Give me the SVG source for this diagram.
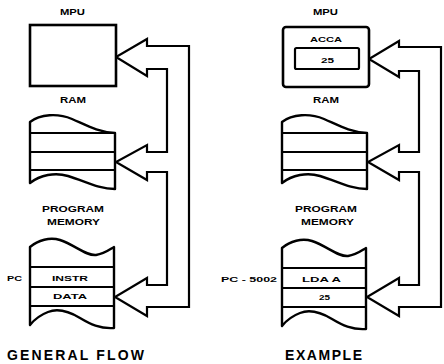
<svg xmlns="http://www.w3.org/2000/svg" width="444" height="364" viewBox="0 0 444 364">
<style>
.bg{fill:#fff}
.box{fill:#fff;stroke:#000;stroke-width:2.6}
.stk{fill:#fff;stroke:#000;stroke-width:2.4;stroke-linejoin:round}
.row{stroke:#000;stroke-width:2.2;fill:none}
.bus{fill:#fff;stroke:#000;stroke-width:2.2;stroke-linejoin:miter}
text{font-family:"Liberation Sans",Arial,sans-serif;font-weight:bold;fill:#000}
.lbl{font-size:9.5px;text-anchor:start}
.sm{font-size:8px}
.big{font-size:14px}
</style>
<defs>
<g id="ramShape">
<path class="stk" d="M30,183 L30,122 C40,114 58,113 72,119 C86,125 98,132 115,133 L115,189 C98,189 85,181 68,176 C55,172 40,175 30,183 Z"/>
<path class="row" d="M30,133 H115 M30,152 H115 M30,170 H115"/>
</g>
<g id="progShape">
<path class="stk" d="M30,325 L30,247 C38,240 50,237 60,240 C75,245 86,256 96,255 C104,254 109,250 114,247 L114,328 C100,329 90,324 80,318 C70,312 58,308 48,312 C40,315 34,320 30,325 Z"/>
<path class="row" d="M30,267 H114 M30,287 H114 M30,306 H114"/>
</g>
</defs>
<rect class="bg" x="0" y="0" width="444" height="364"/>

<g id="connectors">
<path class="bus" d="M147,46 L189,46 L189,307 L147,307 L147,316 L115,297 L147,278 L147,285 L167,285 L167,172 L147,172 L147,180 L116,162 L147,145 L147,152 L167,152 L167,69 L147,69 L147,76 L116,57 L147,39 Z"/>
<path class="bus" d="M399,47 L441,47 L441,307 L399,307 L399,316 L367,297 L399,278 L399,285 L419,285 L419,172 L399,172 L399,180 L368,162 L399,145 L399,152 L419,152 L419,71 L399,71 L399,77 L369,59 L399,41 Z"/>
</g>

<g id="left-mpu">
<text class="lbl" x="60" y="15" textLength="25" lengthAdjust="spacingAndGlyphs">MPU</text>
<rect class="box" x="30" y="25" width="86" height="61"/>
</g>
<g id="left-ram">
<text class="lbl" x="60" y="103" textLength="26" lengthAdjust="spacingAndGlyphs">RAM</text>
<use href="#ramShape"/>
</g>
<g id="left-prog">
<text class="lbl" x="42" y="212" textLength="62" lengthAdjust="spacingAndGlyphs">PROGRAM</text>
<text class="lbl" x="47" y="225" textLength="53" lengthAdjust="spacingAndGlyphs">MEMORY</text>
<use href="#progShape"/>
<text class="sm" x="7" y="281" textLength="15" lengthAdjust="spacingAndGlyphs">PC</text>
<text class="sm" x="52" y="281" textLength="36" lengthAdjust="spacingAndGlyphs">INSTR</text>
<text class="sm" x="53" y="299" textLength="34" lengthAdjust="spacingAndGlyphs">DATA</text>
</g>
<text id="title-left" class="big" x="7" y="360" textLength="137" lengthAdjust="spacing">GENERAL FLOW</text>

<g id="right-mpu">
<text class="lbl" x="313" y="15" textLength="25" lengthAdjust="spacingAndGlyphs">MPU</text>
<rect class="box" x="283" y="27" width="86" height="60" rx="3"/>
<text class="sm" x="310" y="42" textLength="32" lengthAdjust="spacingAndGlyphs">ACCA</text>
<rect class="box" x="295" y="48" width="64" height="21" rx="1.5" style="stroke-width:2.2"/>
<text class="sm" x="321" y="63" textLength="13" lengthAdjust="spacingAndGlyphs">25</text>
</g>
<g id="right-ram">
<text class="lbl" x="313" y="103" textLength="26" lengthAdjust="spacingAndGlyphs">RAM</text>
<use href="#ramShape" transform="translate(252,0)"/>
</g>
<g id="right-prog">
<text class="lbl" x="295" y="212" textLength="62" lengthAdjust="spacingAndGlyphs">PROGRAM</text>
<text class="lbl" x="301" y="225" textLength="53" lengthAdjust="spacingAndGlyphs">MEMORY</text>
<use href="#progShape" transform="translate(252,1)"/>
<text class="sm" x="221" y="282" textLength="56" lengthAdjust="spacingAndGlyphs">PC - 5002</text>
<text class="sm" x="302" y="282" textLength="39" lengthAdjust="spacingAndGlyphs">LDA A</text>
<text class="sm" x="319" y="300" textLength="11" lengthAdjust="spacingAndGlyphs">25</text>
</g>
<text id="title-right" class="big" x="285" y="360" textLength="77" lengthAdjust="spacing">EXAMPLE</text>
</svg>
